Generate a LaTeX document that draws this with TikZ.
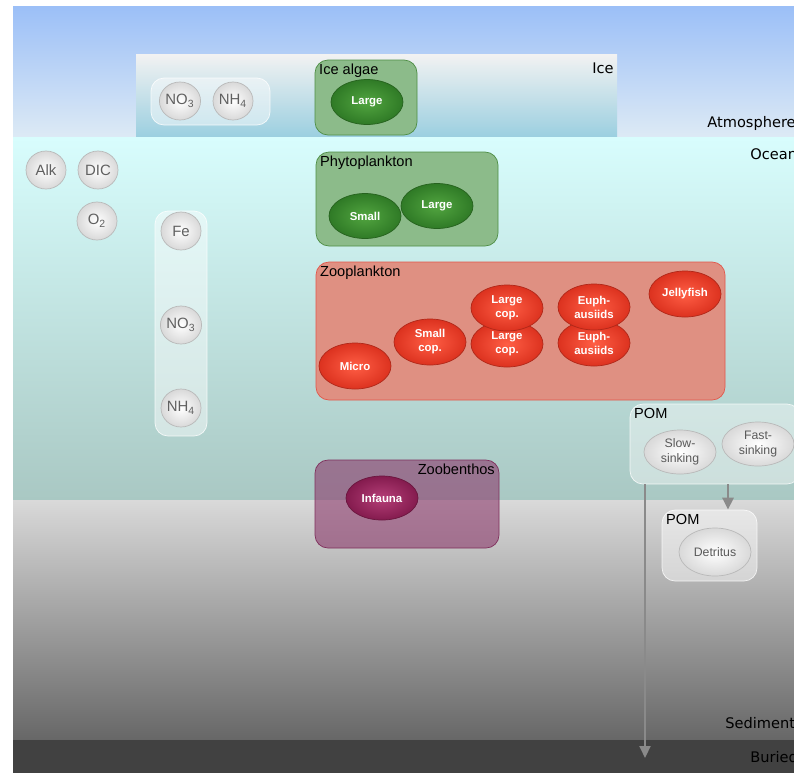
\documentclass[tikz,border=0pt]{standalone}
\usepackage{fontspec}
\setmainfont{Liberation Sans}
\newfontfamily\layerfont{DejaVu Sans}
\usetikzlibrary{shapes.geometric, arrows.meta}
\definecolor{atmtop}{HTML}{9BBFF7}
\definecolor{atmbot}{HTML}{DDEAF5}
\definecolor{icetop}{HTML}{F2F2F2}
\definecolor{icebot}{HTML}{9BCFE0}
\definecolor{oceantop}{HTML}{D8FDFD}
\definecolor{oceanbot}{HTML}{A9C8C3}
\definecolor{sedtop}{HTML}{D9D9D9}
\definecolor{sedbot}{HTML}{676767}
\definecolor{buried}{HTML}{414141}
\definecolor{phytofill}{HTML}{8CBB8A}
\definecolor{phytoline}{HTML}{4E8E45}
\definecolor{algaelight}{HTML}{52A540}
\definecolor{algaedark}{HTML}{2F7A26}
\definecolor{zoofill}{HTML}{DF9082}
\definecolor{zooline}{HTML}{E2564A}
\definecolor{redlight}{HTML}{FF5E45}
\definecolor{reddark}{HTML}{DC321F}
\definecolor{benthfill}{HTML}{8C3A6C}
\definecolor{benthline}{HTML}{7F2F5C}
\definecolor{infalight}{HTML}{B53F78}
\definecolor{infadark}{HTML}{841B4E}
\definecolor{sinkgray}{HTML}{8A8A8A}
\tikzset{layer/.style={font=\layerfont\fontsize{8.3}{9}\selectfont, inner sep=0pt},
         group/.style={rounded corners=2.6mm, inner sep=0pt},
         grouplabel/.style={font=\fontsize{8.3}{9}\selectfont, inner sep=2.4pt},
         nutrient/.style={ellipse, draw=gray!55, inner color=white, outer color=gray!30, text=gray!75!black,
                          minimum width=8mm, minimum height=7.6mm, inner sep=0pt, font=\fontsize{8.5}{9}\selectfont},
         phyto/.style={ellipse, draw=algaedark!80!black, inner color=algaelight, outer color=algaedark, text=white,
                       minimum width=14.4mm, minimum height=9mm, inner sep=0pt, font=\bfseries\fontsize{6.5}{7}\selectfont},
         zoo/.style={ellipse, draw=reddark!80!black, inner color=redlight, outer color=reddark, text=white, align=center,
                     minimum width=14.4mm, minimum height=9.2mm, inner sep=0pt, font=\bfseries\fontsize{6.5}{8}\selectfont},
         benthos/.style={ellipse, draw=infadark!80!black, inner color=infalight, outer color=infadark, text=white,
                         minimum width=14.4mm, minimum height=8.8mm, inner sep=0pt, font=\bfseries\fontsize{6.5}{7}\selectfont},
         detritus/.style={ellipse, draw=gray!55, inner color=white, outer color=gray!30, text=gray!70!black, align=center,
                          minimum width=14.4mm, minimum height=8.8mm, inner sep=0pt, font=\fontsize{7}{8.5}\selectfont},
         sink/.style={draw=sinkgray, -{Triangle[length=2.4mm, width=2.2mm]}},
        }

\begin{document}
\begin{tikzpicture}[x=0.2mm,y=-0.2mm]
        \useasboundingbox (0,0) rectangle (794,773);
        % layers
        \shade[top color=atmtop, bottom color=atmbot] (13,6) rectangle (794,137);
        \shade[top color=icetop, bottom color=icebot] (136,54) rectangle (617,137);
        \shade[top color=oceantop, bottom color=oceanbot] (13,137) rectangle (794,500);
        \shade[top color=sedtop, bottom color=sedbot] (13,500) rectangle (794,740);
        \fill[buried] (13,740) rectangle (794,773);

        \node[layer, anchor=base east](icelbl)at(614,73){Ice};
        \node[layer, anchor=base west](atmlbl)at(707,127){Atmosphere};
        \node[layer, anchor=base west](oceanlbl)at(750,159){Ocean};
        \node[layer, anchor=base west](sedlbl)at(725,728){Sediment};
        \node[layer, anchor=base west](burlbl)at(750,762){Buried};

        % group boxes
        \node[group, draw=white, fill=white, fill opacity=0.45, draw opacity=0.8,
              minimum width=23.8mm, minimum height=9.4mm](icenut)at(210.5,101.5){};
        \node[group, draw=white, fill=white, fill opacity=0.45, draw opacity=0.8,
              minimum width=10.4mm, minimum height=45mm](watnut)at(181,323.5){};
        \node[group, draw=phytoline, fill=phytofill, minimum width=20.4mm, minimum height=15mm,
              label={[grouplabel, anchor=north west]north west:Ice algae}](icealgae)at(366,97.5){};
        \node[group, draw=phytoline, fill=phytofill, minimum width=36.4mm, minimum height=18.8mm,
              label={[grouplabel, anchor=north west]north west:Phytoplankton}](phytogrp)at(407,199){};
        \node[group, draw=zooline, fill=zoofill, minimum width=81.8mm, minimum height=27.6mm,
              label={[grouplabel, anchor=north west]north west:Zooplankton}](zoogrp)at(520.5,331){};
        \node[group, draw=white, fill=white, fill opacity=0.4, draw opacity=0.8, minimum width=34mm, minimum height=16mm,
              label={[grouplabel, anchor=north west]north west:POM}](pom)at(715,444){};
        \node[group, draw=white, fill=white, fill opacity=0.45, draw opacity=0.8, minimum width=19mm, minimum height=14.2mm,
              label={[grouplabel, anchor=north west]north west:POM}](pomsed)at(709.5,545.5){};
        \node[group, draw=benthline, fill=benthfill, fill opacity=0.6, minimum width=36.8mm, minimum height=17.6mm,
              label={[grouplabel, anchor=north east]north east:Zoobenthos}](benthgrp)at(407,504){};

        % nutrients
        \node[nutrient](iceno)at(180,101){NO\textsubscript{3}};
        \node[nutrient](icenh)at(233,101){NH\textsubscript{4}};
        \node[nutrient](alk)at(46,170){Alk};
        \node[nutrient](dic)at(98,170){DIC};
        \node[nutrient](oxy)at(97,221){O\textsubscript{2}};
        \node[nutrient](fe)at(181,231){Fe};
        \node[nutrient](no)at(181,325){NO\textsubscript{3}};
        \node[nutrient](nh)at(181,408){NH\textsubscript{4}};

        % plankton and benthos
        \node[phyto](ialarge)at(367,102){Large};
        \node[phyto](psmall)at(365,216){Small};
        \node[phyto](plarge)at(437,206){Large};
        \node[zoo](micro)at(355,366){Micro};
        \node[zoo](smallcop)at(430,342){Small\\cop.};
        \node[zoo](largecopb)at(507,344){Large\\cop.};
        \node[zoo](largecopa)at(507,308){Large\\cop.};
        \node[zoo](euphb)at(594,343){Euph-\\ausiids};
        \node[zoo](eupha)at(594,307){Euph-\\ausiids};
        \node[zoo](jelly)at(685,294){Jellyfish};
        \node[benthos](infauna)at(382,498){Infauna};

        % detritus
        \node[detritus](slow)at(680,452){Slow-\\sinking};
        \node[detritus](fast)at(758,444){Fast-\\sinking};
        \node[detritus, minimum height=9.6mm](detr)at(715,552){Detritus};

        \coordinate(sinkx)at(728,0);
        \coordinate(burial)at(645,758);
        \draw[sink, line width=1.6pt](pom.south -| sinkx)--(pomsed.north -| sinkx);
        \draw[sink, line width=1.1pt](burial |- pom.south)--(burial);
    \end{tikzpicture}
\end{document}
